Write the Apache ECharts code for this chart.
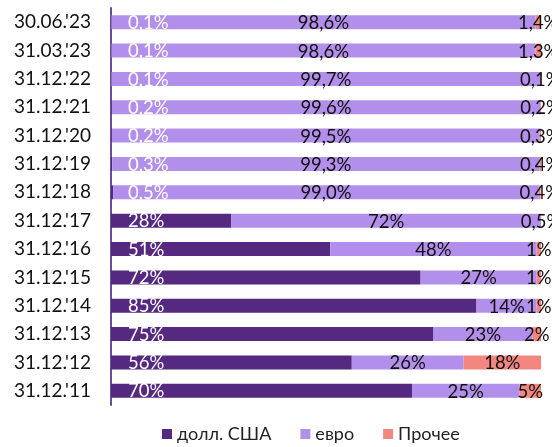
<!DOCTYPE html>
<html><head><meta charset="utf-8">
<script src="https://cdn.jsdelivr.net/npm/echarts@6/dist/echarts.min.js"></script>
<style>html,body{margin:0;padding:0;background:#fff}#c{width:552px;height:447px}</style>
</head><body><div id="c"></div>
<script>
const categories = ["30.06.'23","31.03.'23","31.12.'22","31.12.'21","31.12.'20","31.12.'19","31.12.'18","31.12.'17","31.12.'16","31.12.'15","31.12.'14","31.12.'13","31.12.'12","31.12.'11"];
const usd   = [0.1,0.1,0.1,0.2,0.2,0.3,0.5,28,51,72,85,75,56,70];
const eur   = [98.6,98.6,99.7,99.6,99.5,99.3,99.0,72,48,27,14,23,26,25];
const other = [1.4,1.3,0.1,0.2,0.3,0.4,0.4,0.5,1,1,1,2,18,5];
const labelDecimals = [1,1,1,1,1,1,1,0,0,0,0,0,0,0];
const seriesNames = ['долл. США','евро','Прочее'];

function fmt(p){
  const v = p.value;
  const d = (labelDecimals[p.dataIndex] || v % 1 !== 0) ? 1 : 0;
  return v.toFixed(d).replace('.', ',') + '%';
}
const FONT = 'Lato';
const chart = echarts.init(document.getElementById('c'));
chart.setOption({
  animation:false,
  textStyle:{fontFamily:FONT},
  grid:{left:111,right:11,top:8,bottom:42},
  xAxis:{type:'value',min:0,max:100,show:false},
  yAxis:{type:'category',data:categories,inverse:true,
    axisLine:{lineStyle:{color:'#6b4c9a',width:2}},
    axisTick:{show:false},
    axisLabel:{color:'#111',fontSize:19,fontFamily:FONT,margin:20}},
  legend:{bottom:-1,left:157,itemWidth:10,itemHeight:10,itemGap:29,icon:'rect',
    textStyle:{fontSize:18,color:'#222',fontFamily:FONT},data:seriesNames},
  series:[
    {name:seriesNames[0],type:'bar',stack:'a',barWidth:14,data:usd,
      itemStyle:{color:'#55297f'},
      label:{show:true,position:[17,'55%'],align:'left',verticalAlign:'middle',color:'#fff',fontSize:18.5,fontFamily:FONT,formatter:fmt}},
    {name:seriesNames[1],type:'bar',stack:'a',barWidth:14,data:eur,
      itemStyle:{color:'#b28fea'},
      label:{show:true,position:'inside',color:'#111',fontSize:18.5,fontFamily:FONT,offset:[0,1],formatter:fmt}},
    {name:seriesNames[2],type:'bar',stack:'a',barWidth:14,data:other,
      itemStyle:{color:'#f3877f'},
      label:{show:true,position:'inside',color:'#111',fontSize:18.5,fontFamily:FONT,offset:[0,1],formatter:fmt}}
  ]
});
</script></body></html>
